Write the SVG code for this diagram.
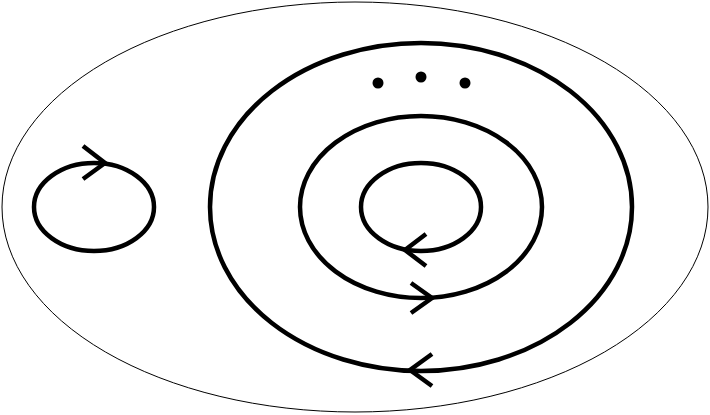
<svg xmlns="http://www.w3.org/2000/svg" width="710" height="415" viewBox="0 0 710 415">
<style>
.thick{fill:none;stroke:#000;stroke-width:4.5}
.thin{fill:none;stroke:#000;stroke-width:1}
.dot{fill:#000}
</style>
<rect width="710" height="415" fill="#fff"/>
<g id="outer"><ellipse class="thin" cx="355" cy="207" rx="353" ry="205"/></g>
<g id="left-loop"><ellipse class="thick" cx="94" cy="207" rx="60" ry="44"/></g>
<g id="big-loop"><ellipse class="thick" cx="421" cy="207" rx="211" ry="164"/></g>
<g id="mid-loop"><ellipse class="thick" cx="421" cy="207" rx="121" ry="91"/></g>
<g id="inner-loop"><ellipse class="thick" cx="421" cy="207" rx="60" ry="44"/></g>
<g id="dots">
<circle class="dot" cx="378" cy="83" r="5.5"/>
<circle class="dot" cx="421" cy="77" r="5.5"/>
<circle class="dot" cx="465" cy="83" r="5.5"/>
</g>
<g id="connectors">
<polyline class="thick" points="83,146 105,163 83,179"/>
<polyline class="thick" points="426,234 405,250 426,266"/>
<polyline class="thick" points="411,283 432,298 411,313"/>
<polyline class="thick" points="432,354 410,370 432,386"/>
</g>
</svg>
